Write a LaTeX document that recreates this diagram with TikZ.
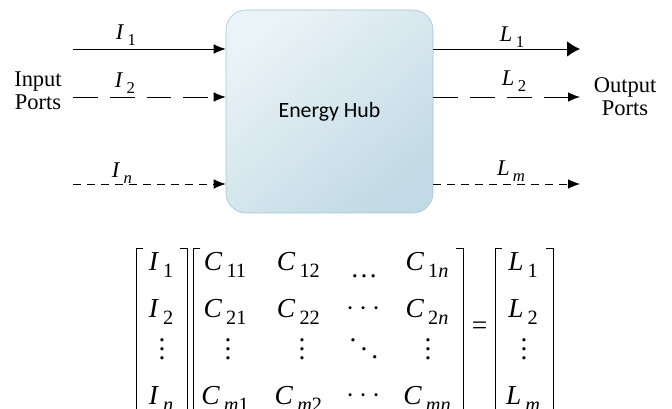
\documentclass[tikz,border=0pt]{standalone}
\usepackage{fontspec}
\setmainfont{Liberation Serif}
\newfontfamily\hubfont{Carlito}
\usetikzlibrary{arrows.meta,positioning}
\definecolor{hubtop}{HTML}{EAF3F7}
\definecolor{hubbot}{HTML}{C2DAE5}
\definecolor{hubline}{HTML}{A3C5D8}
\newcommand{\sym}[2]{\textit{#1}\kern0.15em\raisebox{-0.6ex}{\scalebox{0.74}{#2}}}
\newcommand{\vdotz}{\vbox{\baselineskip=0.22cm\lineskiplimit=0pt\hbox{.}\hbox{.}\hbox{.}}}
\newcommand{\ddotz}{\mbox{\raisebox{0.42cm}{.}\kern0.1cm\raisebox{0.21cm}{.}\kern0.1cm.}}

\begin{document}
\begin{tikzpicture}[
    hub/.style={rectangle, draw=hubline, rounded corners=0.5cm, minimum width=5.175cm, minimum height=5.075cm,
      top color=hubtop, bottom color=hubbot, shading angle=40, font=\hubfont\fontsize{15.5}{18}\selectfont},
    arrow/.style={-{Latex[length=0.3cm,width=0.24cm]}, semithick},
    bigarrow/.style={-{Latex[length=0.32cm,width=0.38cm]}, semithick},
    longdash/.style={dash pattern=on 0.62cm off 0.3cm},
    shortdash/.style={dash pattern=on 0.2cm off 0.15cm},
    lbl/.style={inner sep=0pt, font=\fontsize{16}{18}\selectfont},
    port/.style={align=center, inner sep=0pt, font=\fontsize{16}{16.5}\selectfont},
    cell/.style={inner sep=0pt, font=\fontsize{19.5}{21}\selectfont},
    bracket/.style={semithick}
  ]
    \clip (0,0) rectangle (16.8,10.225);

    % hub and ports
    \node[hub] (hub) at (8.2375,7.4375) {Energy Hub};
    \node[port] (inports) at (0.95,7.95) {Input\\Ports};
    \node[port] (outports) at (15.625,7.8) {Output\\Ports};

    \coordinate (in1) at (1.825,9.0);
    \coordinate (in2) at (1.825,7.8);
    \coordinate (inn) at (1.825,5.625);
    \coordinate (out1) at (14.5,9.0);
    \coordinate (out2) at (14.5,7.8);
    \coordinate (outm) at (14.5,5.625);

    \draw[arrow] (in1) -- (in1 -| hub.west);
    \draw[arrow, longdash] (in2) -- (in2 -| hub.west);
    \draw[arrow, shortdash] (inn) -- (inn -| hub.west);
    \draw[bigarrow] (out1 -| hub.east) -- (out1);
    \draw[arrow, longdash] (out2 -| hub.east) -- (out2);
    \draw[arrow, shortdash] (outm -| hub.east) -- (outm);

    \node[lbl] (lblI1) at (3.15,9.35) {\sym{I}{1}};
    \node[lbl] (lblI2) at (3.125,8.15) {\sym{I}{2}};
    \node[lbl] (lblIn) at (3.05,5.9) {\sym{I}{\textit{n}}};
    \node[lbl] (lblL1) at (12.8,9.3) {\sym{L}{1}};
    \node[lbl] (lblL2) at (12.85,8.2) {\sym{L}{2}};
    \node[lbl] (lblLm) at (12.775,5.95) {\sym{L}{\textit{m}}};

    % matrix equation
    \node[cell] (vI1) at (4.025,3.6) {\sym{I}{1}};
    \node[cell] (vI2) at (4.025,2.425) {\sym{I}{2}};
    \node[cell] (vIdots) at (4.05,1.5) {\vdotz};
    \node[cell] (vIn) at (4.025,0.25) {\sym{I}{\textit{n}}};

    \node[cell] (c11) at (5.625,3.6) {\sym{C}{11}};
    \node[cell] (c12) at (7.46,3.6) {\sym{C}{12}};
    \node[cell] (c13) at (9.1,3.32) {\ldots};
    \node[cell] (c1n) at (10.675,3.6) {\sym{C}{1\textit{n}}};
    \node[cell] (c21) at (5.625,2.425) {\sym{C}{21}};
    \node[cell] (c22) at (7.46,2.425) {\sym{C}{22}};
    \node[cell] (c23) at (9.1,2.5) {$\cdots$};
    \node[cell] (c2n) at (10.675,2.425) {\sym{C}{2\textit{n}}};
    \node[cell] (cd1) at (5.7,1.5) {\vdotz};
    \node[cell] (cd2) at (7.55,1.5) {\vdotz};
    \node[cell] (cd3) at (9.1,1.5) {\ddotz};
    \node[cell] (cd4) at (10.7,1.5) {\vdotz};
    \node[cell] (cm1) at (5.625,0.25) {\sym{C}{\textit{m}1}};
    \node[cell] (cm2) at (7.46,0.25) {\sym{C}{\textit{m}2}};
    \node[cell] (cm3) at (9.1,0.33) {$\cdots$};
    \node[cell] (cmn) at (10.675,0.25) {\sym{C}{\textit{mn}}};

    \node[cell] (eq) at (11.99,2.025) {=};

    \node[cell] (vL1) at (13.075,3.6) {\sym{L}{1}};
    \node[cell] (vL2) at (13.075,2.425) {\sym{L}{2}};
    \node[cell] (vLdots) at (13.1,1.5) {\vdotz};
    \node[cell] (vLm) at (13.075,0.25) {\sym{L}{\textit{m}}};

    \draw[bracket] (3.575,4.025) -- (3.4,4.025) -- (3.4,-0.6) -- (3.575,-0.6);
    \draw[bracket] (4.5,4.025) -- (4.675,4.025) -- (4.675,-0.6) -- (4.5,-0.6);
    \draw[bracket] (5.0,4.025) -- (4.825,4.025) -- (4.825,-0.6) -- (5.0,-0.6);
    \draw[bracket] (11.4,4.025) -- (11.575,4.025) -- (11.575,-0.6) -- (11.4,-0.6);
    \draw[bracket] (12.55,4.025) -- (12.375,4.025) -- (12.375,-0.6) -- (12.55,-0.6);
    \draw[bracket] (13.65,4.025) -- (13.825,4.025) -- (13.825,-0.6) -- (13.65,-0.6);
  \end{tikzpicture}
\end{document}
